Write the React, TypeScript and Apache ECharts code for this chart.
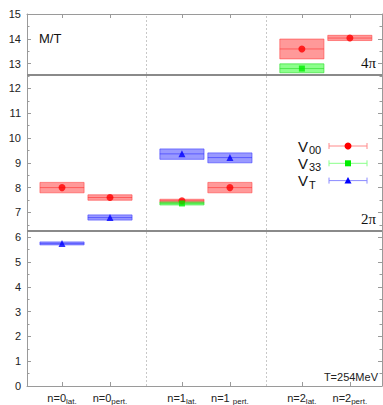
import React, { useEffect, useRef } from "react";
import * as echarts from "echarts";

// x positions of the six columns and their labels
const xPos = [0, 1, 2.5, 3.5, 5, 6];
const xMain = ["n=0", "n=0", "n=1", "n=1 ", "n=2", "n=2"];
const xSub = ["lat.", "pert.", "lat.", "pert.", "lat.", "pert."];
const groupSeparators = [1.75, 4.25];

// [x, value, low, high]
const v00 = [
  [0, 8.0, 7.79, 8.21],
  [1, 7.6, 7.49, 7.71],
  [2.5, 7.47, 7.41, 7.53],
  [3.5, 8.0, 7.79, 8.21],
  [5, 13.59, 13.19, 13.99],
  [6, 14.03, 13.93, 14.14],
];
const v33 = [
  [2.5, 7.36, 7.3, 7.42],
  [5, 12.8, 12.63, 12.99],
];
const vT = [
  [0, 5.75, 5.69, 5.81],
  [1, 6.79, 6.69, 6.9],
  [2.5, 9.36, 9.14, 9.56],
  [3.5, 9.21, 9.0, 9.4],
];

const yTicksMax = 15;
const refLines = [
  { value: 2 * Math.PI, label: "2π" },
  { value: 4 * Math.PI, label: "4π" },
];

const HALF = 0.46;
const XMIN = -0.73;
const XMAX = 6.67;

const seriesMeta = [
  { name: "V00", main: "V", sub: "00", data: v00, fill: "rgba(255,0,0,0.4)", stroke: "rgba(255,60,60,0.55)", line: "rgba(255,40,40,0.55)", marker: "#ff0000", symbol: "circle", size: 7, legendLine: "#ff8a8a" },
  { name: "V33", main: "V", sub: "33", data: v33, fill: "rgba(0,255,0,0.45)", stroke: "rgba(40,220,40,0.6)", line: "rgba(40,220,40,0.6)", marker: "#00ee00", symbol: "rect", size: 6, legendLine: "#8aff8a" },
  { name: "VT", main: "V", sub: "T", data: vT, fill: "rgba(0,0,255,0.4)", stroke: "rgba(60,60,255,0.6)", line: "rgba(40,40,255,0.55)", marker: "#0000ff", symbol: "triangle", size: 7, legendLine: "#8a8aff" },
];

export default function App() {
  const ref = useRef<HTMLDivElement>(null);
  useEffect(() => {
    document.body.style.margin = "0";
    const chart = echarts.init(ref.current!, null, { renderer: "svg" });
    const axisColor = "#9a9a9a";
    const font = "Liberation Sans";

    const series: any[] = [];
    seriesMeta.forEach((m) => {
      series.push({
        type: "custom",
        name: m.name + "-box",
        data: m.data,
        encode: { x: 0, y: [1, 2, 3] },
        silent: true,
        z: 2,
        renderItem: (params: any, api: any) => {
          const x = api.value(0);
          const v = api.value(1);
          const lo = api.value(2);
          const hi = api.value(3);
          const p1 = api.coord([x - HALF, hi]);
          const p2 = api.coord([x + HALF, lo]);
          const c = api.coord([x, v]);
          return {
            type: "group",
            children: [
              {
                type: "rect",
                shape: { x: p1[0], y: p1[1], width: p2[0] - p1[0], height: p2[1] - p1[1] },
                style: { fill: m.fill, stroke: m.stroke, lineWidth: 1 },
              },
              {
                type: "line",
                shape: { x1: p1[0], y1: c[1], x2: p2[0], y2: c[1] },
                style: { stroke: m.line, lineWidth: 1 },
              },
            ],
          };
        },
      });
    });
    seriesMeta.forEach((m, i) => {
      const s: any = {
        type: "scatter",
        name: m.name,
        data: m.data.map((d) => [d[0], d[1]]),
        symbol: m.symbol,
        symbolSize: m.size,
        itemStyle: { color: m.marker },
        silent: true,
        z: 5,
      };
      if (i === 0) {
        s.markLine = {
          silent: true,
          symbol: "none",
          animation: false,
          data: [
            ...groupSeparators.map((x) => ({
              xAxis: x,
              lineStyle: { color: "#c8c8c8", type: [2, 2], width: 1 },
              label: { show: false },
            })),
            ...refLines.map((r) => ({
              yAxis: r.value,
              lineStyle: { color: "#8a8a8a", type: "solid", width: 2 },
              label: {
                show: true,
                formatter: r.label,
                position: "insideEndTop",
                color: "#111",
                fontFamily: "Liberation Serif",
                fontSize: 15,
                distance: [6, 4],
              },
            })),
          ],
        };
      }
      series.push(s);
    });

    const legendGraphics: any[] = [];
    seriesMeta.forEach((m, i) => {
      const y = 146 + 17.3 * i;
      legendGraphics.push(
        {
          type: "text",
          x: 298,
          y: y,
          style: { text: m.main, fontSize: 15, fontFamily: font, fill: "#111", align: "left", verticalAlign: "middle" },
        },
        {
          type: "text",
          x: 309,
          y: y + 4,
          style: { text: m.sub, fontSize: 11, fontFamily: font, fill: "#111", align: "left", verticalAlign: "middle" },
        },
        { type: "line", shape: { x1: 329, y1: y, x2: 367, y2: y }, style: { stroke: m.legendLine, lineWidth: 1 } },
        { type: "line", shape: { x1: 329, y1: y - 3, x2: 329, y2: y + 3 }, style: { stroke: m.legendLine, lineWidth: 1 } },
        { type: "line", shape: { x1: 367, y1: y - 3, x2: 367, y2: y + 3 }, style: { stroke: m.legendLine, lineWidth: 1 } }
      );
      if (m.symbol === "circle") {
        legendGraphics.push({ type: "circle", shape: { cx: 348, cy: y, r: 3.5 }, style: { fill: m.marker } });
      } else if (m.symbol === "rect") {
        legendGraphics.push({ type: "rect", shape: { x: 345, y: y - 3, width: 6, height: 6 }, style: { fill: m.marker } });
      } else {
        legendGraphics.push({ type: "polygon", shape: { points: [[348, y - 3.5], [351.5, y + 3], [344.5, y + 3]] }, style: { fill: m.marker } });
      }
    });

    const yAxisBase = {
      type: "value",
      min: 0,
      max: yTicksMax,
      interval: 1,
      axisLine: { show: true, onZero: false, lineStyle: { color: axisColor, width: 1 } },
      axisTick: { show: true, inside: true, length: 4, lineStyle: { color: axisColor } },
      minorTick: { show: true, splitNumber: 2, length: 2.5, lineStyle: { color: axisColor } },
      splitLine: { show: false },
      minorSplitLine: { show: false },
    };

    chart.setOption({
      animation: false,
      grid: { left: 27, right: 1, top: 14, bottom: 18, containLabel: false },
      xAxis: [
        {
          type: "value",
          min: XMIN,
          max: XMAX,
          position: "bottom",
          axisLine: { show: true, onZero: false, lineStyle: { color: axisColor } },
          axisTick: { show: true, inside: true, length: 4, customValues: xPos, lineStyle: { color: axisColor } },
          axisLabel: {
            show: true,
            customValues: xPos,
            margin: 5,
            formatter: (v: number) => {
              const i = xPos.indexOf(v);
              if (i < 0) return "";
              return `{m|${xMain[i]}}{s|${xSub[i]}}`;
            },
            rich: {
              m: { fontSize: 11, fontFamily: font, color: "#222" },
              s: { fontSize: 8, fontFamily: font, color: "#222", padding: [6, 0, 0, 0] },
            },
          },
          splitLine: { show: false },
        },
        {
          type: "value",
          min: XMIN,
          max: XMAX,
          position: "top",
          axisLine: { show: true, onZero: false, lineStyle: { color: axisColor } },
          axisTick: { show: true, inside: true, length: 4, customValues: xPos, lineStyle: { color: axisColor } },
          axisLabel: { show: false },
          splitLine: { show: false },
        },
      ],
      yAxis: [
        {
          ...yAxisBase,
          position: "left",
          axisLabel: { show: true, fontSize: 11, fontFamily: font, color: "#222", margin: 6 },
        },
        {
          ...yAxisBase,
          position: "right",
          axisLabel: { show: false },
        },
      ],
      series,
      graphic: [
        {
          type: "text",
          x: 39,
          y: 38,
          style: { text: "M/T", fontSize: 13, fontFamily: font, fill: "#111", verticalAlign: "middle" },
        },
        {
          type: "text",
          x: 378,
          y: 377,
          style: { text: "T=254MeV", fontSize: 11, fontFamily: font, fill: "#222", align: "right", verticalAlign: "middle" },
        },
        ...legendGraphics,
      ],
    });
    return () => chart.dispose();
  }, []);
  return <div ref={ref} style={{ width: 383, height: 405 }} />;
}
